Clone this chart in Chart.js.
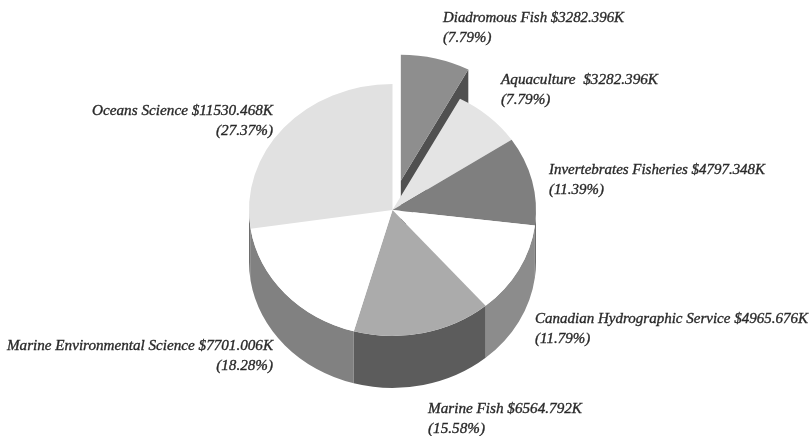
<!DOCTYPE html>
<html>
<head>
<meta charset="utf-8">
<script src="https://cdn.jsdelivr.net/npm/chart.js@4"></script>
<style>
  html, body { margin: 0; background: #fff; }
  canvas { display: block; filter: blur(0.6px); }
</style>
</head>
<body>
<canvas id="pie" width="811" height="436"></canvas>
<script>
const categories = ['Diadromous Fish', 'Aquaculture', 'Invertebrates Fisheries', 'Canadian Hydrographic Service', 'Marine Fish', 'Marine Environmental Science', 'Oceans Science'];
const amounts = [3282.396, 3282.396, 4797.348, 4965.676, 6564.792, 7701.006, 11530.468];
const amountLabels = ['$3282.396K', ' $3282.396K', '$4797.348K', '$4965.676K', '$6564.792K', '$7701.006K', '$11530.468K'];
const percentLabels = ['(7.79%)', '(7.79%)', '(11.39%)', '(11.79%)', '(15.58%)', '(18.28%)', '(27.37%)'];

const topColors = ['#8e8e8e', '#e4e4e4', '#7f7f7f', '#ffffff', '#ababab', '#ffffff', '#e1e1e1'];
const wallColors = ['#505050', '#505050', '#6e6e6e', '#8c8c8c', '#5c5c5c', '#818181', '#6e6e6e'];

// x, first line y, text align, width of the first line
const labelPlaces = [
  [443, 22, 'left', 181], [501, 84, 'left', 157], [549, 174, 'left', 216], [535, 323, 'left', 273],
  [428, 413, 'left', 154], [273, 350, 'right', 266], [273, 115, 'right', 181]
];

const SQUASH = 126 / 143.5;
const DEPTH = 52;
const EXPLODE = 34.4;

function arcShift(arc) {
  const mid = (arc.startAngle + arc.endAngle) / 2;
  return [Math.cos(mid) * EXPLODE, Math.sin(mid) * EXPLODE * SQUASH];
}

const pie3d = {
  id: 'pie3d',
  beforeDatasetDraw(chart, args) {
    const ctx = chart.ctx;
    const arcs = args.meta.data;
    const cx = arcs[0].x, cy = arcs[0].y, r = arcs[0].outerRadius;

    function drawTop(arc, dx, dy) {
      ctx.save();
      ctx.translate(cx + dx, cy + dy);
      ctx.scale(1, SQUASH);
      ctx.translate(-cx, -cy);
      arc.draw(ctx);
      ctx.restore();
    }

    // pulled out slice first, the rest of the pie covers its cut side
    const out = arcs[0];
    const [ox, oy] = arcShift(out);
    const ex = Math.cos(out.endAngle) * r, ey = Math.sin(out.endAngle) * r * SQUASH;
    ctx.fillStyle = wallColors[0];
    ctx.beginPath();
    ctx.moveTo(cx + ox, cy + oy);
    ctx.lineTo(cx + ox + ex, cy + oy + ey);
    ctx.lineTo(cx + ox + ex, cy + oy + ey + DEPTH);
    ctx.lineTo(cx + ox, cy + oy + DEPTH);
    ctx.closePath();
    ctx.fill();
    drawTop(out, ox, oy);

    // front walls
    arcs.forEach((arc, i) => {
      if (i === 0) return;
      const a = Math.max(arc.startAngle, 0), b = Math.min(arc.endAngle, Math.PI);
      if (b <= a) return;
      ctx.fillStyle = wallColors[i];
      ctx.beginPath();
      ctx.ellipse(cx, cy, r, r * SQUASH, 0, a, b);
      ctx.ellipse(cx, cy + DEPTH, r, r * SQUASH, 0, b, a, true);
      ctx.closePath();
      ctx.fill();
    });

    arcs.forEach((arc, i) => { if (i > 0) drawTop(arc, 0, 0); });
    return false;
  },
  afterDraw(chart) {
    const ctx = chart.ctx;
    ctx.save();
    ctx.font = 'italic 15px "Liberation Serif"';
    ctx.fillStyle = '#2a2a2a';
    ctx.strokeStyle = '#2a2a2a';
    ctx.lineWidth = 0.35;
    ctx.textBaseline = 'alphabetic';
    categories.forEach((name, i) => {
      const [x, y, align, w] = labelPlaces[i];
      const line = name + ' ' + amountLabels[i];
      const sx = w / ctx.measureText(line).width;
      ctx.save();
      ctx.translate(x, y);
      ctx.scale(sx, 1);
      ctx.textAlign = align;
      ctx.fillText(line, 0, 0);
      ctx.strokeText(line, 0, 0);
      ctx.fillText(percentLabels[i], 0, 20);
      ctx.strokeText(percentLabels[i], 0, 20);
      ctx.restore();
    });
    ctx.restore();
  }
};

const config = {
  type: 'pie',
  data: {
    labels: categories,
    datasets: [{ data: amounts, backgroundColor: topColors, borderWidth: 0 }]
  },
  options: {
    responsive: false,
    animation: false,
    radius: 143.5,
    layout: { padding: { right: 26, bottom: 16 } },
    plugins: { legend: { display: false }, tooltip: { enabled: false } }
  },
  plugins: [pie3d]
};

document.addEventListener('DOMContentLoaded', function () {
  new Chart(document.getElementById('pie').getContext('2d'), config);
});
</script>
</body>
</html>
